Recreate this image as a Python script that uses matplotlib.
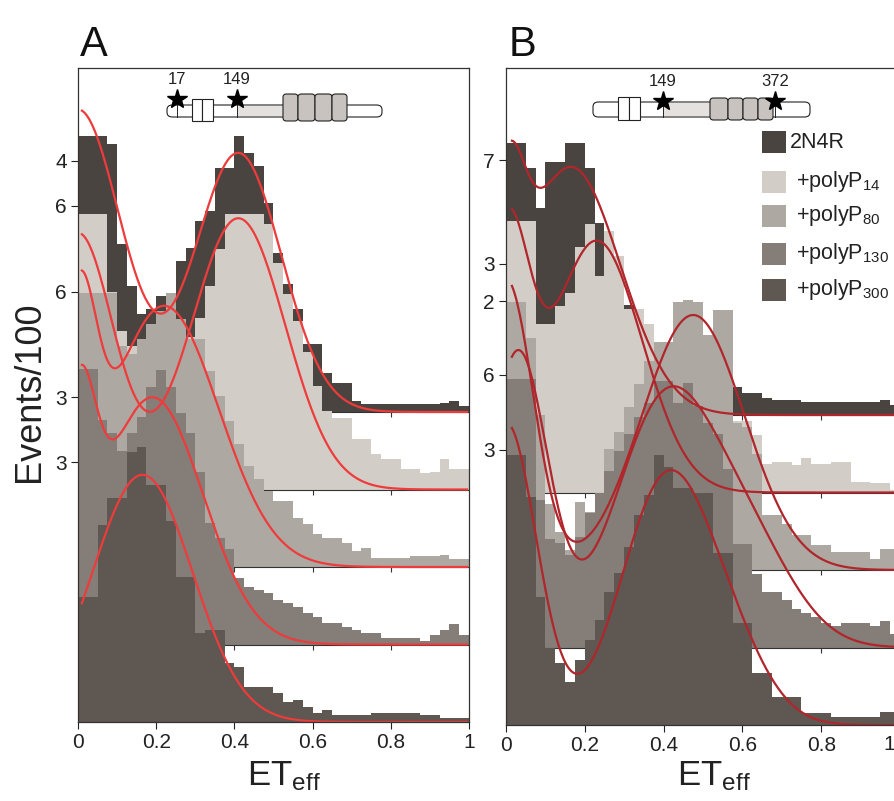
import numpy as np
import matplotlib.pyplot as plt
from matplotlib.patches import Rectangle, FancyBboxPatch
from matplotlib.lines import Line2D

plt.rcParams['font.family'] = ['Liberation Sans', 'DejaVu Sans']
plt.rcParams['mathtext.fontset'] = 'custom'
plt.rcParams['mathtext.rm'] = 'Liberation Sans'
plt.rcParams['mathtext.it'] = 'Liberation Sans'

W, H = 895, 801

# 40 bins over ET_eff
edges = np.linspace(0, 1, 41)

labels = ['2N4R', '+polyP$_{14}$', '+polyP$_{80}$', '+polyP$_{130}$', '+polyP$_{300}$']
fill_colors = ['#4a4440', '#d3cdc8', '#aea8a3', '#847d78', '#5e5752']

# heights above each ridge's own baseline (one unit = ridge spacing)
a_2n4r = [3.56, 3.56, 3.56, 3.46, 2.17, 1.63, 1.26, 1.33, 1.50, 1.43,
          1.95, 2.12, 2.46, 2.60, 3.15, 3.15, 3.56, 3.34, 3.17, 2.70,
          2.05, 1.65, 1.33, 0.88, 0.88, 0.50, 0.37, 0.37, 0.14, 0.10,
          0.10, 0.10, 0.10, 0.10, 0.10, 0.10, 0.10, 0.12, 0.14, 0.08]
a_p14 = [3.55, 3.55, 3.55, 2.55, 2.04, 1.85, 1.72, 1.72, 1.78, 1.85,
         1.94, 1.97, 2.21, 2.62, 3.10, 3.55, 3.55, 3.56, 3.56, 3.43,
         2.92, 2.52, 2.17, 1.78, 1.33, 1.01, 0.92, 0.92, 0.65, 0.65,
         0.46, 0.39, 0.39, 0.27, 0.27, 0.21, 0.23, 0.39, 0.26, 0.26]
a_p80 = [3.54, 3.54, 3.54, 3.54, 2.85, 2.75, 2.94, 3.14, 3.30, 3.54,
         3.20, 2.94, 2.94, 2.53, 2.21, 1.88, 1.59, 1.30, 1.14, 0.98,
         0.85, 0.85, 0.63, 0.55, 0.43, 0.37, 0.37, 0.31, 0.21, 0.25,
         0.12, 0.12, 0.12, 0.12, 0.14, 0.14, 0.14, 0.15, 0.10, 0.10]
a_p130 = [3.55, 3.55, 2.90, 2.73, 2.50, 2.73, 2.93, 3.32, 3.54, 3.32,
          2.99, 2.73, 2.22, 1.57, 1.38, 1.23, 0.86, 0.74, 0.70, 0.67,
          0.58, 0.54, 0.48, 0.41, 0.35, 0.28, 0.28, 0.23, 0.19, 0.15,
          0.15, 0.09, 0.09, 0.09, 0.09, 0.05, 0.12, 0.19, 0.26, 0.12]
a_p300 = [1.61, 1.61, 2.54, 2.89, 2.89, 3.49, 3.55, 3.06, 3.06, 2.60,
          1.87, 1.87, 1.15, 1.19, 1.19, 0.76, 0.71, 0.45, 0.45, 0.45,
          0.37, 0.26, 0.28, 0.19, 0.12, 0.15, 0.09, 0.09, 0.09, 0.09,
          0.12, 0.12, 0.12, 0.12, 0.12, 0.09, 0.09, 0.05, 0.05, 0.05]

b_2n4r = [3.51, 3.51, 3.19, 2.67, 3.26, 3.26, 3.51, 3.51, 3.19, 2.48,
          2.26, 1.94, 1.42, 1.35, 1.10, 0.84, 0.71, 0.65, 0.58, 0.52,
          0.48, 0.43, 0.39, 0.36, 0.28, 0.28, 0.22, 0.19, 0.19, 0.19,
          0.17, 0.17, 0.17, 0.17, 0.17, 0.17, 0.17, 0.17, 0.19, 0.13]
b_p14 = [3.50, 3.50, 3.50, 2.18, 2.18, 2.41, 2.57, 3.17, 3.47, 2.79,
         3.38, 3.05, 2.37, 2.37, 2.18, 1.79, 1.66, 1.53, 1.40, 1.27,
         1.17, 1.08, 1.02, 0.92, 0.92, 0.74, 0.37, 0.40, 0.40, 0.35,
         0.44, 0.37, 0.37, 0.40, 0.40, 0.14, 0.14, 0.12, 0.12, 0.03]
b_p80 = [3.46, 3.46, 3.00, 2.00, 0.85, 0.49, 0.26, 0.88, 0.75, 1.00,
         1.56, 1.78, 2.10, 2.40, 2.70, 2.94, 2.94, 3.46, 3.48, 3.46,
         3.03, 3.35, 3.35, 1.90, 1.85, 1.50, 0.71, 0.71, 0.60, 0.45,
         0.45, 0.32, 0.32, 0.23, 0.23, 0.23, 0.23, 0.14, 0.27, 0.27]
b_p130 = [3.47, 3.47, 3.47, 1.90, 1.40, 1.35, 1.20, 1.43, 1.73, 1.99,
          2.28, 2.54, 2.76, 2.98, 3.15, 3.44, 3.44, 3.15, 3.41, 3.11,
          2.90, 2.76, 2.30, 1.34, 1.34, 0.95, 0.72, 0.72, 0.61, 0.50,
          0.45, 0.40, 0.31, 0.28, 0.31, 0.31, 0.31, 0.28, 0.34, 0.18]
b_p300 = [3.48, 3.48, 2.94, 1.65, 1.00, 0.80, 0.55, 0.84, 1.10, 1.35,
          1.72, 1.96, 2.30, 2.71, 2.97, 3.48, 3.33, 3.06, 3.06, 3.00,
          3.00, 2.22, 2.22, 1.32, 1.32, 0.67, 0.67, 0.36, 0.36, 0.36,
          0.15, 0.15, 0.15, 0.10, 0.10, 0.10, 0.10, 0.10, 0.17, 0.17]

# gaussian fit components (amplitude, centre, width)
fit_a = [[(3.90, 0.00, 0.110), (3.34, 0.41, 0.110)],
         [(3.30, 0.00, 0.090), (3.50, 0.41, 0.120)],
         [(2.80, 0.00, 0.045), (3.37, 0.22, 0.140)],
         [(2.45, 0.00, 0.043), (3.19, 0.19, 0.130)],
         [(3.19, 0.165, 0.128)]]
fit_b = [[(2.10, 0.00, 0.044), (3.20, 0.165, 0.125)],
         [(3.20, 0.00, 0.057), (3.25, 0.23, 0.115)],
         [(3.75, 0.00, 0.068), (3.29, 0.475, 0.130)],
         [(3.80, 0.03, 0.075), (3.05, 0.40, 0.125), (1.25, 0.61, 0.120)],
         [(3.90, 0.00, 0.077), (3.00, 0.40, 0.110), (0.90, 0.56, 0.100)]]

xticks = [0, 0.2, 0.4, 0.6, 0.8, 1]
xticklabels = ['0', '0.2', '0.4', '0.6', '0.8', '1']
yticks_a = [7.24, 6.66, 5.55, 4.19, 3.35]
ylabels_a = ['4', '6', '6', '3', '3']
yticks_b = [7.29, 5.95, 5.47, 4.52, 3.55]
ylabels_b = ['7', '3', '2', '6', '3']


def fx(px):
    return px / W


def fy(py):
    return 1 - py / H


def fit_curve(x, comps):
    y = np.zeros_like(x)
    for amp, c, s in comps:
        y += amp * np.exp(-(x - c) ** 2 / (2 * s ** 2))
    return y


def draw_panel(ax, hists, fits, red, x_start, yticks, ylabels, last_label=True):
    n = len(hists)
    for i, h in enumerate(hists):
        off = n - 1 - i
        z = 1 + i
        ax.stairs(np.array(h) + off, edges, baseline=off, fill=True,
                  color=fill_colors[i], lw=0, zorder=z)
        if off > 0:
            ax.plot([0, 1], [off, off], color='#333333', lw=0.8, zorder=z + 0.5)
            ax.vlines([0.2, 0.4, 0.6, 0.8], off - 0.07, off, color='#333333',
                      lw=0.8, zorder=z + 0.5)
    x = np.linspace(x_start, 0.995, 300)
    for i, comps in enumerate(fits):
        off = n - 1 - i
        ax.plot(x, fit_curve(x, comps) + off, color=red, lw=1.6, zorder=10)
    ax.set_xlim(0, 1)
    ax.set_xticks(xticks)
    ax.set_xticklabels(xticklabels if last_label else xticklabels[:-1] + [''])
    ax.set_yticks(yticks)
    ax.set_yticklabels(ylabels)
    ax.tick_params(direction='out', length=5, width=0.8, labelsize=15,
                   pad=3, colors='#222222')
    for sp in ax.spines.values():
        sp.set_linewidth(0.9)
        sp.set_color('#333333')
        sp.set_zorder(12)


def draw_construct(fig, bar, light, whites, grays, box_y, gray_y, stars, star_y, lab_y):
    x0, x1, y0, y1 = bar
    fig.add_artist(FancyBboxPatch((fx(x0), fy(y1)), (x1 - x0) / W, (y1 - y0) / H,
                                  boxstyle='round,pad=0,rounding_size=0.006',
                                  transform=fig.transFigure, fc='white',
                                  ec='#222222', lw=0.8))
    fig.add_artist(Rectangle((fx(light[0]), fy(y1) + 0.001),
                             (light[1] - light[0]) / W, (y1 - y0) / H - 0.002,
                             transform=fig.transFigure, fc='#e4e1de', ec='none'))
    for a, b in whites:
        fig.add_artist(Rectangle((fx(a), fy(box_y[1])), (b - a) / W,
                                 (box_y[1] - box_y[0]) / H,
                                 transform=fig.transFigure, fc='white',
                                 ec='#222222', lw=0.8))
    for a, b in grays:
        fig.add_artist(FancyBboxPatch((fx(a), fy(gray_y[1])), (b - a) / W,
                                      (gray_y[1] - gray_y[0]) / H,
                                      boxstyle='round,pad=0,rounding_size=0.004',
                                      transform=fig.transFigure, fc='#c8c3bf',
                                      ec='#222222', lw=0.8))
    for px, txt in stars:
        fig.add_artist(Line2D([fx(px), fx(px)], [fy(star_y), fy(y1)],
                              transform=fig.transFigure, color='#222222', lw=0.7))
        fig.add_artist(Line2D([fx(px)], [fy(star_y)], marker='*', markersize=15,
                              color='black', transform=fig.transFigure))
        fig.text(fx(px), fy(lab_y), txt, ha='center', va='center', fontsize=12,
                 color='#222222')


fig = plt.figure(figsize=(8.95, 8.01), dpi=100)
ax_a = fig.add_axes([fx(78), fy(722), 391 / W, (722 - 68) / H])
ax_b = fig.add_axes([fx(506), fy(725), 394 / W, (725 - 68) / H])

draw_panel(ax_a, [a_2n4r, a_p14, a_p80, a_p130, a_p300], fit_a, '#ee3b3b',
           0.01, yticks_a, ylabels_a)
ax_a.set_ylim(0, (722 - 68) / 77.5)
draw_panel(ax_b, [b_2n4r, b_p14, b_p80, b_p130, b_p300], fit_b, '#b0262b',
           0.015, yticks_b, ylabels_b, last_label=False)
ax_b.set_ylim(0, (725 - 68) / 77.5)
# the "1" of panel B sits at the very edge of the figure
fig.text(fx(889), fy(744), xticklabels[-1], ha='center', va='center', fontsize=15,
         color='#222222')

draw_construct(fig, (167, 382, 105, 117), (237, 283), [(192, 202), (202, 213)],
               [(283, 298), (298, 315), (315, 332), (332, 347)], (99, 121), (94, 121),
               [(177, '17'), (237, '149')], 99, 80)
draw_construct(fig, (593, 810, 102, 117), (663, 710), [(618, 629), (629, 640)],
               [(710, 728), (728, 743), (743, 758), (758, 773)], (97, 120), (98, 120),
               [(663, '149'), (775, '372')], 101, 82)

# legend (panel B)
leg_y = [142, 182, 216, 254, 290]
for i, lab in enumerate(labels):
    fig.add_artist(Rectangle((fx(762), fy(leg_y[i] + 11)), 24 / W, 22 / H,
                             transform=fig.transFigure, fc=fill_colors[i], ec='none'))
    fig.text(fx(790 if i == 0 else 796), fy(leg_y[i]), lab, ha='left', va='center',
             fontsize=15.5, color='#222222')

fig.text(fx(94), fy(45), 'A', ha='center', va='center', fontsize=30, color='#111111')
fig.text(fx(522), fy(45), 'B', ha='center', va='center', fontsize=30, color='#111111')
fig.text(fx(30), fy(392), 'Events/100', rotation=90, ha='center', va='center',
         fontsize=26, color='#222222')
fig.text(fx(284), fy(776), r'ET$_{\mathrm{eff}}$', ha='center', va='center',
         fontsize=25, color='#222222')
fig.text(fx(714), fy(776), r'ET$_{\mathrm{eff}}$', ha='center', va='center',
         fontsize=25, color='#222222')

fig.savefig('out.png', dpi=100)
